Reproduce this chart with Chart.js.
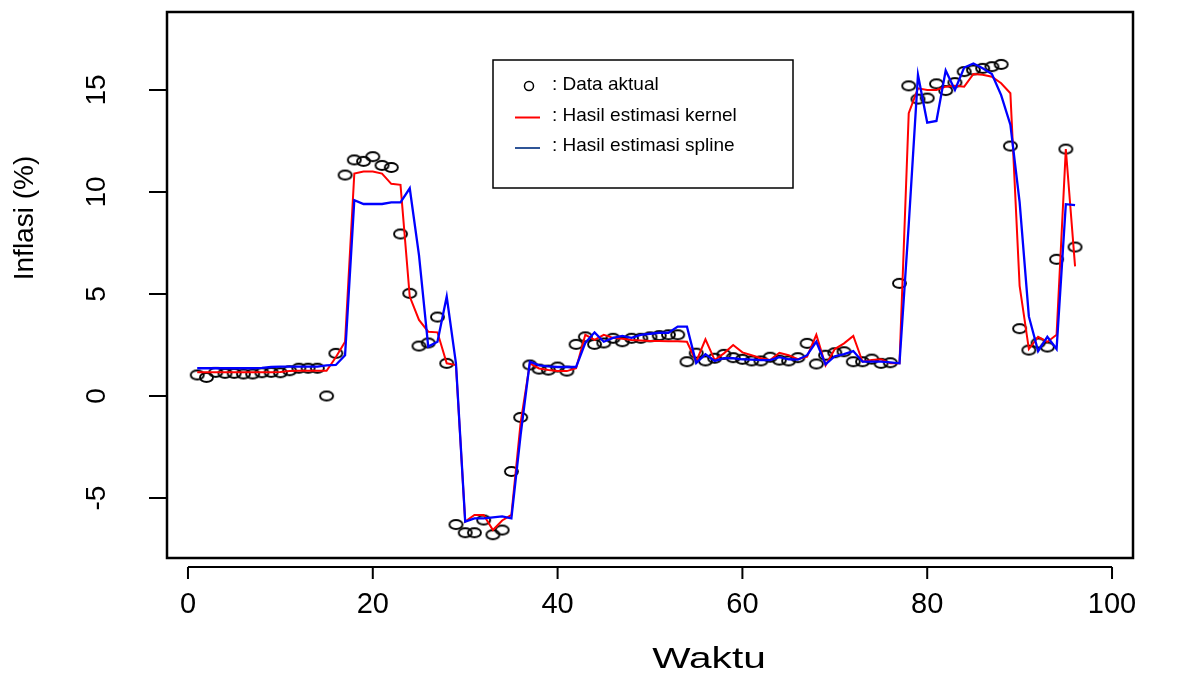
<!DOCTYPE html>
<html>
<head>
<meta charset="utf-8">
<script src="https://cdn.jsdelivr.net/npm/chart.js@4.4.0/dist/chart.umd.min.js"></script>
<style>
  html, body { margin: 0; padding: 0; background: #fff; }
</style>
</head>
<body>
<canvas id="myChart" width="1185" height="674"></canvas>
<script>
// bulan ke-1 .. ke-96
const waktu = [
    1, 2, 3, 4, 5, 6, 7, 8, 9, 10, 11, 12, 13, 14, 15, 16,
    17, 18, 19, 20, 21, 22, 23, 24, 25, 26, 27, 28, 29, 30, 31, 32,
    33, 34, 35, 36, 37, 38, 39, 40, 41, 42, 43, 44, 45, 46, 47, 48,
    49, 50, 51, 52, 53, 54, 55, 56, 57, 58, 59, 60, 61, 62, 63, 64,
    65, 66, 67, 68, 69, 70, 71, 72, 73, 74, 75, 76, 77, 78, 79, 80,
    81, 82, 83, 84, 85, 86, 87, 88, 89, 90, 91, 92, 93, 94, 95, 96
];

const dataAktual = [
    1.03, 0.91, 1.16, 1.11, 1.11, 1.08, 1.08, 1.14, 1.16, 1.14, 1.24, 1.36, 1.36, 1.36, 0.0, 2.09,
    10.83, 11.57, 11.5, 11.73, 11.3, 11.2, 7.94, 5.03, 2.45, 2.6, 3.87, 1.6, -6.3, -6.7, -6.7, -6.08,
    -6.8, -6.57, -3.7, -1.05, 1.52, 1.32, 1.27, 1.42, 1.22, 2.53, 2.9, 2.53, 2.6, 2.83, 2.66, 2.83,
    2.83, 2.9, 2.96, 3.0, 3.0, 1.68, 2.1, 1.72, 1.85, 2.04, 1.88, 1.8, 1.72, 1.72, 1.9, 1.76,
    1.72, 1.88, 2.58, 1.57, 2.0, 2.12, 2.17, 1.68, 1.68, 1.81, 1.6, 1.63, 5.52, 15.2, 14.55, 14.6,
    15.3, 14.97, 15.36, 15.9, 15.98, 16.06, 16.14, 16.25, 12.25, 3.3, 2.25, 2.6, 2.4, 6.7, 12.1, 7.3
];

const estimasiKernel = [
    1.16, 1.16, 1.16, 1.16, 1.16, 1.16, 1.16, 1.16, 1.16, 1.18, 1.22, 1.24, 1.24, 1.24, 1.24, 1.9,
    2.66, 10.9, 11.0, 11.0, 10.9, 10.4, 10.35, 4.87, 3.73, 3.15, 3.12, 1.6, 1.52, -6.16, -5.83, -5.83,
    -6.57, -6.1, -5.83, -1.3, 1.6, 1.35, 1.27, 1.22, 1.22, 1.36, 3.0, 2.75, 3.0, 2.85, 2.8, 2.75,
    2.72, 2.7, 2.7, 2.68, 2.68, 2.66, 1.68, 2.78, 1.76, 2.09, 2.5, 2.14, 2.0, 1.85, 1.76, 2.12,
    2.0, 1.8, 1.93, 3.0, 1.5, 2.3, 2.58, 2.94, 1.68, 1.76, 1.8, 1.6, 1.6, 13.86, 15.08, 15.0,
    15.0, 15.16, 15.2, 15.16, 15.78, 15.74, 15.65, 15.33, 14.84, 5.4, 2.3, 2.9, 2.65, 3.0, 12.1, 6.35
];

const estimasiSpline = [
    1.36, 1.36, 1.36, 1.36, 1.36, 1.36, 1.36, 1.38, 1.42, 1.44, 1.44, 1.44, 1.44, 1.44, 1.5, 1.52,
    2.0, 9.6, 9.41, 9.41, 9.41, 9.49, 9.49, 10.18, 6.9, 2.42, 2.66, 4.87, 1.6, -6.16, -6.0, -6.0,
    -5.95, -5.9, -6.0, -1.9, 1.68, 1.5, 1.45, 1.42, 1.42, 1.42, 2.6, 3.12, 2.66, 2.85, 2.95, 2.85,
    3.0, 3.05, 3.1, 3.1, 3.4, 3.4, 1.62, 2.05, 1.72, 1.85, 1.85, 1.8, 1.78, 1.76, 1.76, 1.9,
    1.8, 1.78, 2.0, 2.66, 1.55, 1.95, 2.05, 2.2, 1.68, 1.68, 1.68, 1.65, 1.6, 8.4, 15.74, 13.4,
    13.48, 15.95, 15.0, 16.1, 16.3, 16.06, 15.78, 14.75, 13.3, 9.5, 3.9, 2.2, 2.9, 2.3, 9.4, 9.35
];

const xTicks = [0, 20, 40, 60, 80, 100];
const yTicks = [-5, 0, 5, 10, 15];

const labelAktual = ': Data aktual';
const labelKernel = ': Hasil estimasi kernel';
const labelSpline = ': Hasil estimasi spline';

const fontR = "'Liberation Sans', Arial, sans-serif";

function toPoints(arr) {
    return waktu.map((t, i) => ({ x: t, y: arr[i] }));
}

// lingkaran lonjong seperti pch=1 pada gambar asli
function ellipseMarker(w, h, lw) {
    const c = document.createElement('canvas');
    c.width = w + 4;
    c.height = h + 4;
    const g = c.getContext('2d');
    g.lineWidth = lw;
    g.strokeStyle = '#000';
    g.beginPath();
    g.ellipse(c.width / 2, c.height / 2, w / 2, h / 2, 0, 0, Math.PI * 2);
    g.stroke();
    return c;
}

const pointMarker = ellipseMarker(13, 9, 1.9);

const rStyleFrame = {
    id: 'rStyleFrame',
    afterDatasetsDraw(chart) {
        const { ctx, chartArea: a, scales: { x, y } } = chart;
        ctx.save();
        ctx.strokeStyle = '#000';
        ctx.lineWidth = 2.5;
        ctx.strokeRect(a.left, a.top, a.right - a.left, a.bottom - a.top);

        // sumbu y
        ctx.lineWidth = 2;
        ctx.beginPath();
        yTicks.forEach(v => {
            const py = y.getPixelForValue(v);
            ctx.moveTo(a.left - 18, py);
            ctx.lineTo(a.left, py);
        });
        // sumbu x
        const ay = a.bottom + 9;
        ctx.moveTo(x.getPixelForValue(xTicks[0]), ay);
        ctx.lineTo(x.getPixelForValue(xTicks[xTicks.length - 1]), ay);
        xTicks.forEach(v => {
            const px = x.getPixelForValue(v);
            ctx.moveTo(px, ay);
            ctx.lineTo(px, ay + 12);
        });
        ctx.stroke();

        // judul sumbu
        ctx.fillStyle = '#000';
        ctx.font = '29px ' + fontR;
        ctx.textAlign = 'center';
        ctx.textBaseline = 'middle';
        ctx.save();
        ctx.translate(a.left + 542, 660);
        ctx.scale(1.4, 1);
        ctx.fillText('Waktu', 0, 0);
        ctx.restore();
        ctx.font = '28px ' + fontR;
        ctx.save();
        ctx.translate(25, a.top + 206);
        ctx.rotate(-Math.PI / 2);
        ctx.fillText('Inflasi (%)', 0, 0);
        ctx.restore();

        // legenda
        const lx = a.left + 326, ly = a.top + 48;
        ctx.fillStyle = '#fff';
        ctx.fillRect(lx, ly, 300, 128);
        ctx.lineWidth = 1.5;
        ctx.strokeStyle = '#000';
        ctx.strokeRect(lx, ly, 300, 128);

        const rows = [
            { label: labelAktual, type: 'point' },
            { label: labelKernel, type: 'line', color: '#ff0000' },
            { label: labelSpline, type: 'line', color: '#2f5597' }
        ];
        ctx.font = "19px " + fontR;
        ctx.textAlign = 'left';
        rows.forEach((r, i) => {
            const cy = ly + 25 + i * 30.5;
            if (r.type === 'point') {
                ctx.lineWidth = 1.5;
                ctx.strokeStyle = '#000';
                ctx.beginPath();
                ctx.arc(lx + 36, cy + 1, 4.5, 0, Math.PI * 2);
                ctx.stroke();
            } else {
                ctx.lineWidth = 2;
                ctx.strokeStyle = r.color;
                ctx.beginPath();
                ctx.moveTo(lx + 22, cy + 2);
                ctx.lineTo(lx + 47, cy + 2);
                ctx.stroke();
            }
            ctx.fillStyle = '#000';
            ctx.fillText(r.label, lx + 59, cy);
        });
        ctx.restore();
    }
};

const ctx = document.getElementById('myChart').getContext('2d');
const myChart = new Chart(ctx, {
    type: 'scatter',
    data: {
        datasets: [{
            label: labelAktual,
            data: toPoints(dataAktual),
            showLine: false,
            pointStyle: pointMarker,
            pointRadius: 7,
            borderColor: '#000',
            backgroundColor: 'transparent',
            order: 3
        }, {
            label: labelKernel,
            data: toPoints(estimasiKernel),
            showLine: true,
            borderColor: '#ff0000',
            backgroundColor: '#ff0000',
            borderWidth: 2,
            pointRadius: 0,
            tension: 0,
            order: 2
        }, {
            label: labelSpline,
            data: toPoints(estimasiSpline),
            showLine: true,
            borderColor: '#0000ff',
            backgroundColor: '#0000ff',
            borderWidth: 2.3,
            pointRadius: 0,
            tension: 0,
            order: 1
        }]
    },
    options: {
        responsive: false,
        animation: false,
        devicePixelRatio: 1,
        layout: { padding: { top: 12, right: 52, left: 0, bottom: 0 } },
        plugins: {
            legend: { display: false },
            tooltip: { enabled: false }
        },
        scales: {
            x: {
                type: 'linear',
                min: -2.27,
                max: 102.27,
                afterBuildTicks: s => { s.ticks = xTicks.map(v => ({ value: v })); },
                afterFit: s => { s.height = 116; s.paddingLeft = 0; s.paddingRight = 0; },
                grid: { display: false },
                border: { display: false },
                ticks: {
                    color: '#000',
                    font: { family: fontR, size: 29 },
                    padding: 22,
                    maxRotation: 0
                }
            },
            y: {
                type: 'linear',
                min: -7.94,
                max: 18.82,
                afterBuildTicks: s => { s.ticks = yTicks.map(v => ({ value: v })); },
                afterFit: s => { s.width = 167; s.paddingTop = 0; s.paddingBottom = 0; },
                grid: { display: false },
                border: { display: false },
                ticks: {
                    color: '#000',
                    font: { family: fontR, size: 28 },
                    minRotation: 90,
                    maxRotation: 90,
                    crossAlign: 'center',
                    padding: 46
                }
            }
        }
    },
    plugins: [rStyleFrame]
});
</script>
</body>
</html>
